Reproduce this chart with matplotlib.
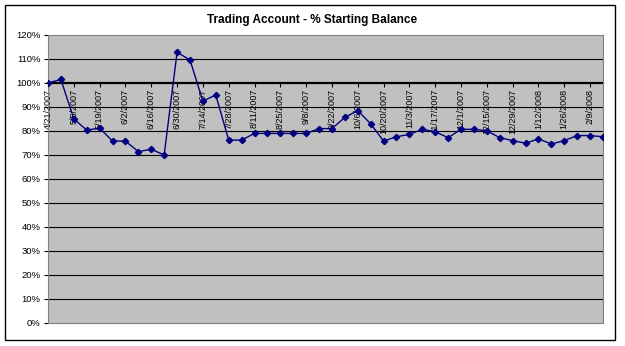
import matplotlib
matplotlib.use("Agg")
import matplotlib.pyplot as plt
from matplotlib.patches import Rectangle
from matplotlib.ticker import FuncFormatter

plt.rcParams['font.family'] = ['Liberation Sans', 'DejaVu Sans']

title = "Trading Account - % Starting Balance"
tick_labels = ["4/21/2007", "5/5/2007", "5/19/2007", "6/2/2007", "6/16/2007", "6/30/2007",
               "7/14/2007", "7/28/2007", "8/11/2007", "8/25/2007", "9/8/2007", "9/22/2007",
               "10/6/2007", "10/20/2007", "11/3/2007", "11/17/2007", "12/1/2007", "12/15/2007",
               "12/29/2007", "1/12/2008", "1/26/2008", "2/9/2008"]
balance_pct = [100, 101.5, 85, 80.4, 81.2, 75.8, 75.8, 71.4, 72.4, 70,
               112.8, 109.6, 92.5, 95, 76.2, 76.2, 79, 79, 79, 79,
               79, 81, 81, 85.7, 88.5, 83, 75.8, 77.6, 78.6, 80.7,
               79.7, 77.2, 80.7, 80.7, 80.1, 77.2, 76, 74.9, 76.7, 74.6,
               76, 78.1, 78.1, 77.6]

W, H = 625, 346
fig = plt.figure(figsize=(W / 100, H / 100), dpi=100)
fig.patch.set_facecolor('white')

# outer chart border
fig.patches.append(Rectangle((5 / W, 1 - 340 / H), 610 / W, 335 / H, transform=fig.transFigure,
                             fill=False, edgecolor='black', linewidth=1.0))

ax = fig.add_axes([48 / W, 1 - 323 / H, (603 - 48) / W, (323 - 35) / H])
ax.set_facecolor('#C0C0C0')

x = list(range(len(balance_pct)))
ax.set_xlim(0, len(balance_pct) - 1)
ax.set_ylim(0, 120)

for v in range(10, 120, 10):
    if v != 100:
        ax.axhline(v, color='black', linewidth=0.8, zorder=1)

ax.plot(x, balance_pct, color='#000080', linewidth=1.0, marker='D', markersize=3.2,
        markerfacecolor='#000080', markeredgecolor='#000080', zorder=3)

# category axis crosses at 100%
ax.spines['bottom'].set_position(('data', 100))
ax.spines['bottom'].set_color('black')
ax.spines['bottom'].set_linewidth(1.6)
ax.spines['bottom'].set_zorder(2)
for s in ['top', 'right', 'left']:
    ax.spines[s].set_color('#808080')
    ax.spines[s].set_linewidth(0.8)
# bottom border of plot area at 0
ax.axhline(0, color='#808080', linewidth=0.8, clip_on=False)

ax.set_xticks(list(range(0, len(balance_pct), 2)))
ax.set_xticklabels(tick_labels, rotation=90, fontsize=6.5, va='top', ha='center')
ax.tick_params(axis='x', direction='out', length=3, width=0.8, color='black', pad=1)

ax.set_yticks(list(range(0, 121, 10)))
ax.yaxis.set_major_formatter(FuncFormatter(lambda v, p: f"{int(v)}%"))
ax.tick_params(axis='y', direction='out', length=3, width=0.8, color='black', labelsize=6.8, pad=2.5)

fig.text(312 / W, 1 - 20 / H, title, ha='center', va='center',
         fontsize=8.5, fontweight='bold')

fig.savefig('out.png', dpi=100)
